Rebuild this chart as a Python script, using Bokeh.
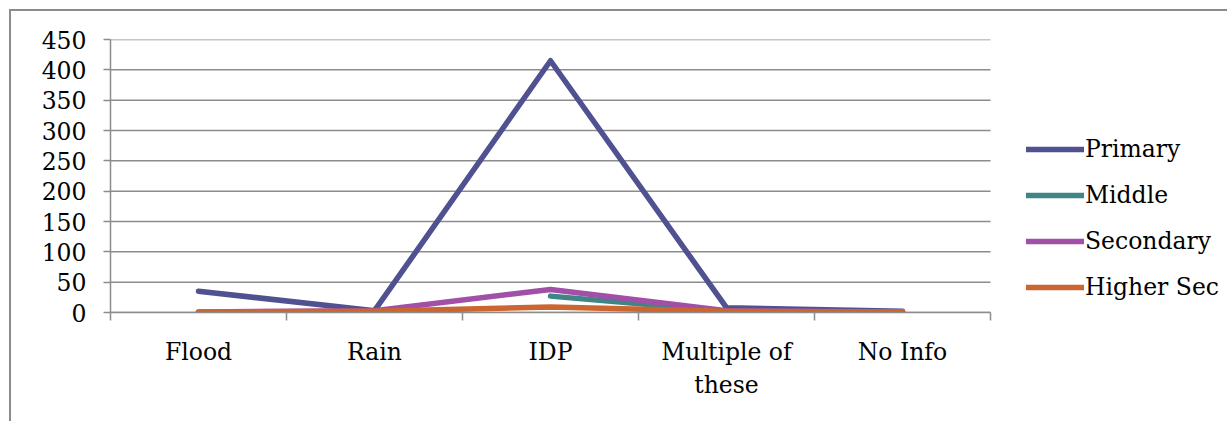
from bokeh.plotting import figure
from bokeh.models import FixedTicker, Legend, LegendItem, InlineStyleSheet
from bokeh.embed import file_html
from bokeh.resources import INLINE
import math

categories = ["Flood", "Rain", "IDP", "Multiple of\nthese", "No Info"]
primary = [35, 3, 415, 8, 2]
middle = [math.nan, math.nan, 27, 2, 1]
secondary = [1, 3, 38, 3, 1]
higher_sec = [1, 2, 9, 2, 1]
series_names = ["Primary", "Middle", "Secondary", "Higher Sec"]
series_values = [primary, middle, secondary, higher_sec]
colors = ["#4F5190", "#3F8585", "#A24FA8", "#CB6630"]
y_ticks = list(range(0, 451, 50))

n = len(categories)
xs = [i + 0.5 for i in range(n)]
FONT = "DejaVu Serif"
FS = "23.5px"
GRID = "#8c8c8c"

# plot frame spans to the right edge so the legend (drawn inside it) is not clipped;
# the category area covers the first 880 of its 1117 pixels
x_end = n * 1117 / 880

p = figure(width=1227, height=421, output_backend="svg", toolbar_location=None,
           x_range=(0, x_end), y_range=(0, 450),
           min_border_left=110, min_border_top=39, min_border_right=0, min_border_bottom=109)
p.outline_line_color = None
p.background_fill_color = "white"
p.border_fill_color = "white"

# axes
p.xaxis.bounds = (0, n)
p.xaxis.ticker = FixedTicker(ticks=xs, minor_ticks=list(range(n + 1)))
p.xaxis.major_label_overrides = {x: c for x, c in zip(xs, categories)}
p.xaxis.major_tick_out = 0
p.xaxis.major_tick_in = 0
p.xaxis.minor_tick_out = 8
p.xaxis.minor_tick_in = 0
p.xaxis.minor_tick_line_color = GRID
p.xaxis.minor_tick_line_width = 1.5
p.xaxis.major_label_standoff = 17
p.xaxis.major_label_text_font = FONT
p.xaxis.major_label_text_font_size = FS
p.xaxis.major_label_text_color = "black"
p.xaxis.axis_line_color = GRID
p.xaxis.axis_line_width = 1.5

p.yaxis.ticker = FixedTicker(ticks=y_ticks)
p.yaxis.major_tick_out = 7
p.yaxis.major_tick_in = 0
p.yaxis.minor_tick_line_color = None
p.yaxis.major_tick_line_color = GRID
p.yaxis.major_tick_line_width = 1.5
p.yaxis.major_label_standoff = 17
p.yaxis.major_label_text_font = FONT
p.yaxis.major_label_text_font_size = FS
p.yaxis.major_label_text_color = "black"
p.yaxis.axis_line_color = GRID
p.yaxis.axis_line_width = 1.5

p.xgrid.grid_line_color = None
p.ygrid.grid_line_color = None
# horizontal gridlines limited to the category area
p.segment(x0=[0] * len(y_ticks), x1=[n] * len(y_ticks), y0=y_ticks, y1=y_ticks,
          line_color=GRID, line_width=1.5)

items = []
for name, vals, col in zip(series_names, series_values, colors):
    r = p.line(xs, vals, line_color=col, line_width=5.5, line_cap="round", line_join="round")
    items.append(LegendItem(label=name, renderers=[r]))

legend = Legend(items=items, location=(916, 11), border_line_color=None,
                background_fill_alpha=0, padding=10, margin=0,
                glyph_width=58, glyph_height=24, label_height=24, spacing=18,
                label_standoff=1, label_text_font=FONT, label_text_font_size=FS,
                label_text_color="black")
p.add_layout(legend, "center")

p.stylesheets = [InlineStyleSheet(css="""
:host::after {
  content: '';
  position: absolute;
  left: 9px; top: 9px; right: 0; bottom: 0;
  border-left: 2.5px solid #8c8c8c;
  border-top: 2.5px solid #8c8c8c;
  pointer-events: none;
}
""")]

open("out.html", "w").write(file_html(p, INLINE))
